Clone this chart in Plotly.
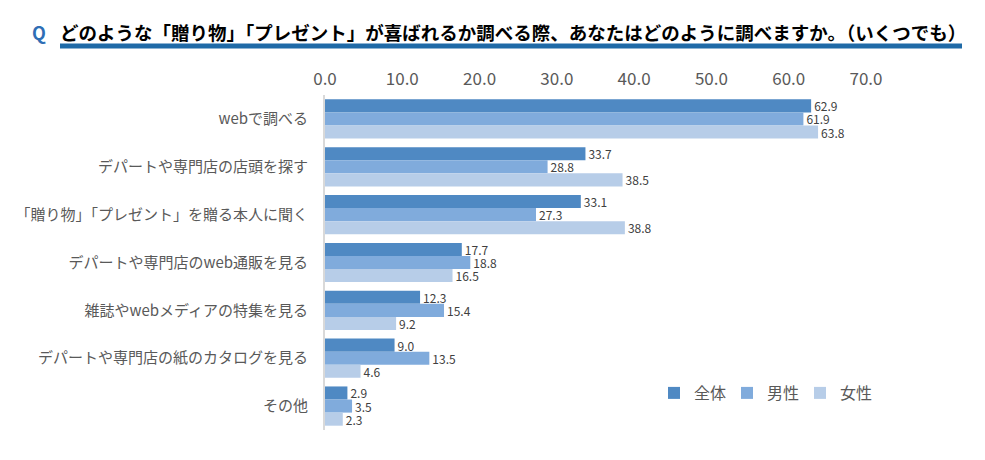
import plotly.graph_objects as go

# 調べ方（いくつでも）の回答率 %
categories = [
    "webで調べる",
    "デパートや専門店の店頭を探す",
    "「贈り物」「プレゼント」を贈る本人に聞く",
    "デパートや専門店のweb通販を見る",
    "雑誌やwebメディアの特集を見る",
    "デパートや専門店の紙のカタログを見る",
    "その他",
]
total = [62.9, 33.7, 33.1, 17.7, 12.3, 9.0, 2.9]
male = [61.9, 28.8, 27.3, 18.8, 15.4, 13.5, 3.5]
female = [63.8, 38.5, 38.8, 16.5, 9.2, 4.6, 2.3]

series = [("全体", total, "#4F89C3"), ("男性", male, "#80ABDC"), ("女性", female, "#B7CDE8")]

font_jp = "Noto Sans CJK JP"

fig = go.Figure()
for name, vals, color in series:
    fig.add_trace(go.Bar(
        y=categories, x=vals, name=name, orientation="h",
        marker=dict(color=color, line=dict(width=0)),
        text=[f"{v:.1f}" for v in vals], textposition="outside",
        constraintext="none",
        textfont=dict(size=12, color="#404040", family=font_jp),
        cliponaxis=False,
    ))

# page body has an 8px margin, so target pixels are shifted by OFF
OFF = 8
W, H = 985 - OFF, 460 - OFF
L, R, T, B = 325 - OFF, 866 - OFF, 95 - OFF, 430 - OFF


def px_x(x):
    return (x - OFF - L) / (R - L)


def px_y(y):
    return (B - (y - OFF)) / (B - T)


fig.update_layout(
    width=W, height=H,
    margin=dict(l=L, r=W - R, t=T, b=H - B),
    barmode="group", bargap=0.18, bargroupgap=0,
    plot_bgcolor="white", paper_bgcolor="white",
    font=dict(family=font_jp, color="#595959"),
    legend=dict(orientation="h", x=px_x(654), y=px_y(393), xanchor="left", yanchor="middle",
                font=dict(size=16, color="#595959"), traceorder="normal",
                entrywidth=28, entrywidthmode="pixels"),
    showlegend=True,
)
fig.update_xaxes(
    side="top", range=[0, 70], dtick=10, tickformat=".1f",
    showgrid=False, zeroline=False, showline=False, automargin=False,
    tickfont=dict(size=17, color="#595959"), ticklabelstandoff=6,
)
fig.update_yaxes(
    autorange="reversed", showgrid=False, zeroline=False, automargin=False,
    showline=True, linecolor="#D9D9D9", linewidth=2,
    tickfont=dict(size=15, color="#595959"), ticks="", ticklabelstandoff=12,
)

fig.add_annotation(text="<b>Q</b>", xref="paper", yref="paper", x=px_x(30), y=px_y(32),
                   xanchor="left", yanchor="middle", showarrow=False,
                   font=dict(size=18, color="#2F6EB5", family=font_jp))
fig.add_annotation(text="<b>どのような「贈り物」「プレゼント」が喜ばれるか調べる際、あなたはどのように調べますか。（いくつでも）</b>",
                   xref="paper", yref="paper", x=px_x(58), y=px_y(32),
                   xanchor="left", yanchor="middle", showarrow=False,
                   font=dict(size=18.5, color="#000000", family=font_jp))
fig.add_shape(type="line", xref="paper", yref="paper",
              x0=px_x(60), x1=px_x(962), y0=px_y(46), y1=px_y(46),
              line=dict(color="#1F6AA7", width=5))

fig.write_html("out.html")
